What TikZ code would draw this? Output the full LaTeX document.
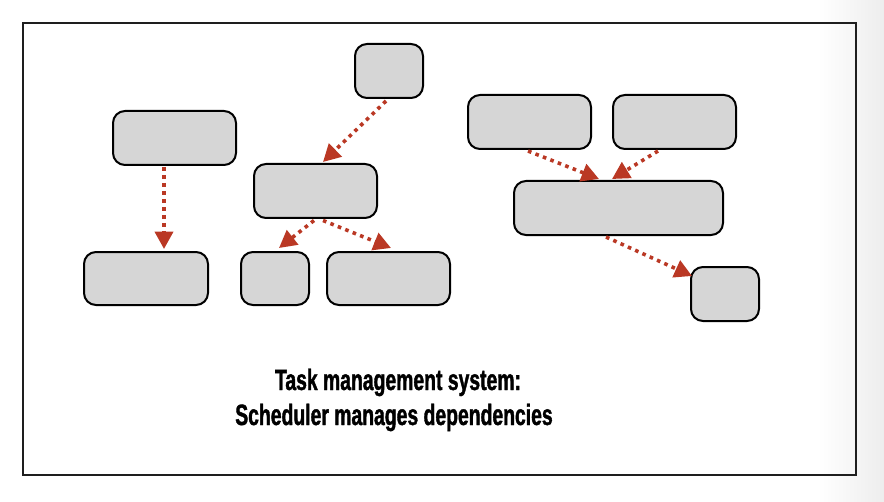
\documentclass[tikz,border=0pt]{standalone}
\usepackage{fontspec}
\newfontfamily\titlefont[FakeStretch=0.66, BoldFeatures={FakeStretch=0.66,FakeBold=1.3}]{Liberation Sans}
\usetikzlibrary{arrows.meta}
\definecolor{boxgray}{RGB}{214,214,214}
\definecolor{deporange}{RGB}{186,56,36}
\definecolor{framec}{RGB}{30,30,30}
\tikzset{
  task/.style={draw=black, fill=boxgray, line width=1.5pt, rounded corners=9pt,
    anchor=north west, inner sep=0pt},
  dep/.style={draw=deporange, line width=2.7pt, dash pattern=on 2.7pt off 3.3pt,
    -{Triangle[length=13pt,width=13.5pt,fill=deporange]}},
  ttl/.style={font=\titlefont\bfseries\fontsize{22pt}{26pt}\selectfont, anchor=base, inner sep=0pt}
}
\begin{document}
\begin{tikzpicture}[x=0.75pt,y=-0.75pt]
\useasboundingbox (0,0) rectangle (884,502);
\shade[left color=white, right color=black!7, draw=none] (818,0) rectangle (884,502);
\draw[framec, line width=1.5pt] (23,23) rectangle (856,475);
% nodes
\node[task, minimum width=51pt, minimum height=40.5pt] (A) at (354,43) {};
\node[task, minimum width=92.25pt, minimum height=40.5pt] (B) at (112,110) {};
\node[task, minimum width=92.25pt, minimum height=40.5pt] (C) at (253,163) {};
\node[task, minimum width=93pt, minimum height=39.75pt] (D) at (83,251) {};
\node[task, minimum width=51pt, minimum height=39.75pt] (E) at (240,251) {};
\node[task, minimum width=92.25pt, minimum height=39.75pt] (F) at (326,251) {};
\node[task, minimum width=92.25pt, minimum height=40.5pt] (G) at (467,94) {};
\node[task, minimum width=92.25pt, minimum height=40.5pt] (H) at (612,94) {};
\node[task, minimum width=156.75pt, minimum height=40.5pt] (I) at (513,180) {};
\node[task, minimum width=51pt, minimum height=40.5pt] (J) at (690,266) {};
% dependencies
\draw[dep] ([shift={(-3,2)}]A.south) -- ([shift={(7.5,-1)}]C.north);
\draw[dep] ([shift={(-10.5,1)}]B.south) -- ([shift={(18,-2)}]D.north);
\draw[dep] ([shift={(-1.5,1.5)}]C.south) -- ([shift={(4,-3)}]E.north);
\draw[dep] ([shift={(7.5,1.5)}]C.south) -- ([shift={(2.5,-3)}]F.north);
\draw[dep] ([shift={(-1.5,1)}]G.south) -- ([shift={(-19.5,-1)}]I.north);
\draw[dep] ([shift={(-16.5,1)}]H.south) -- ([shift={(-6.5,-1)}]I.north);
\draw[dep] ([shift={(-12.5,1)}]I.south) -- ([shift={(2,10)}]J.north west);
% title
\node[ttl] (t1) at (398,390) {Task management system:};
\node[ttl] (t2) at (394,425) {Scheduler manages dependencies};
\end{tikzpicture}
\end{document}
